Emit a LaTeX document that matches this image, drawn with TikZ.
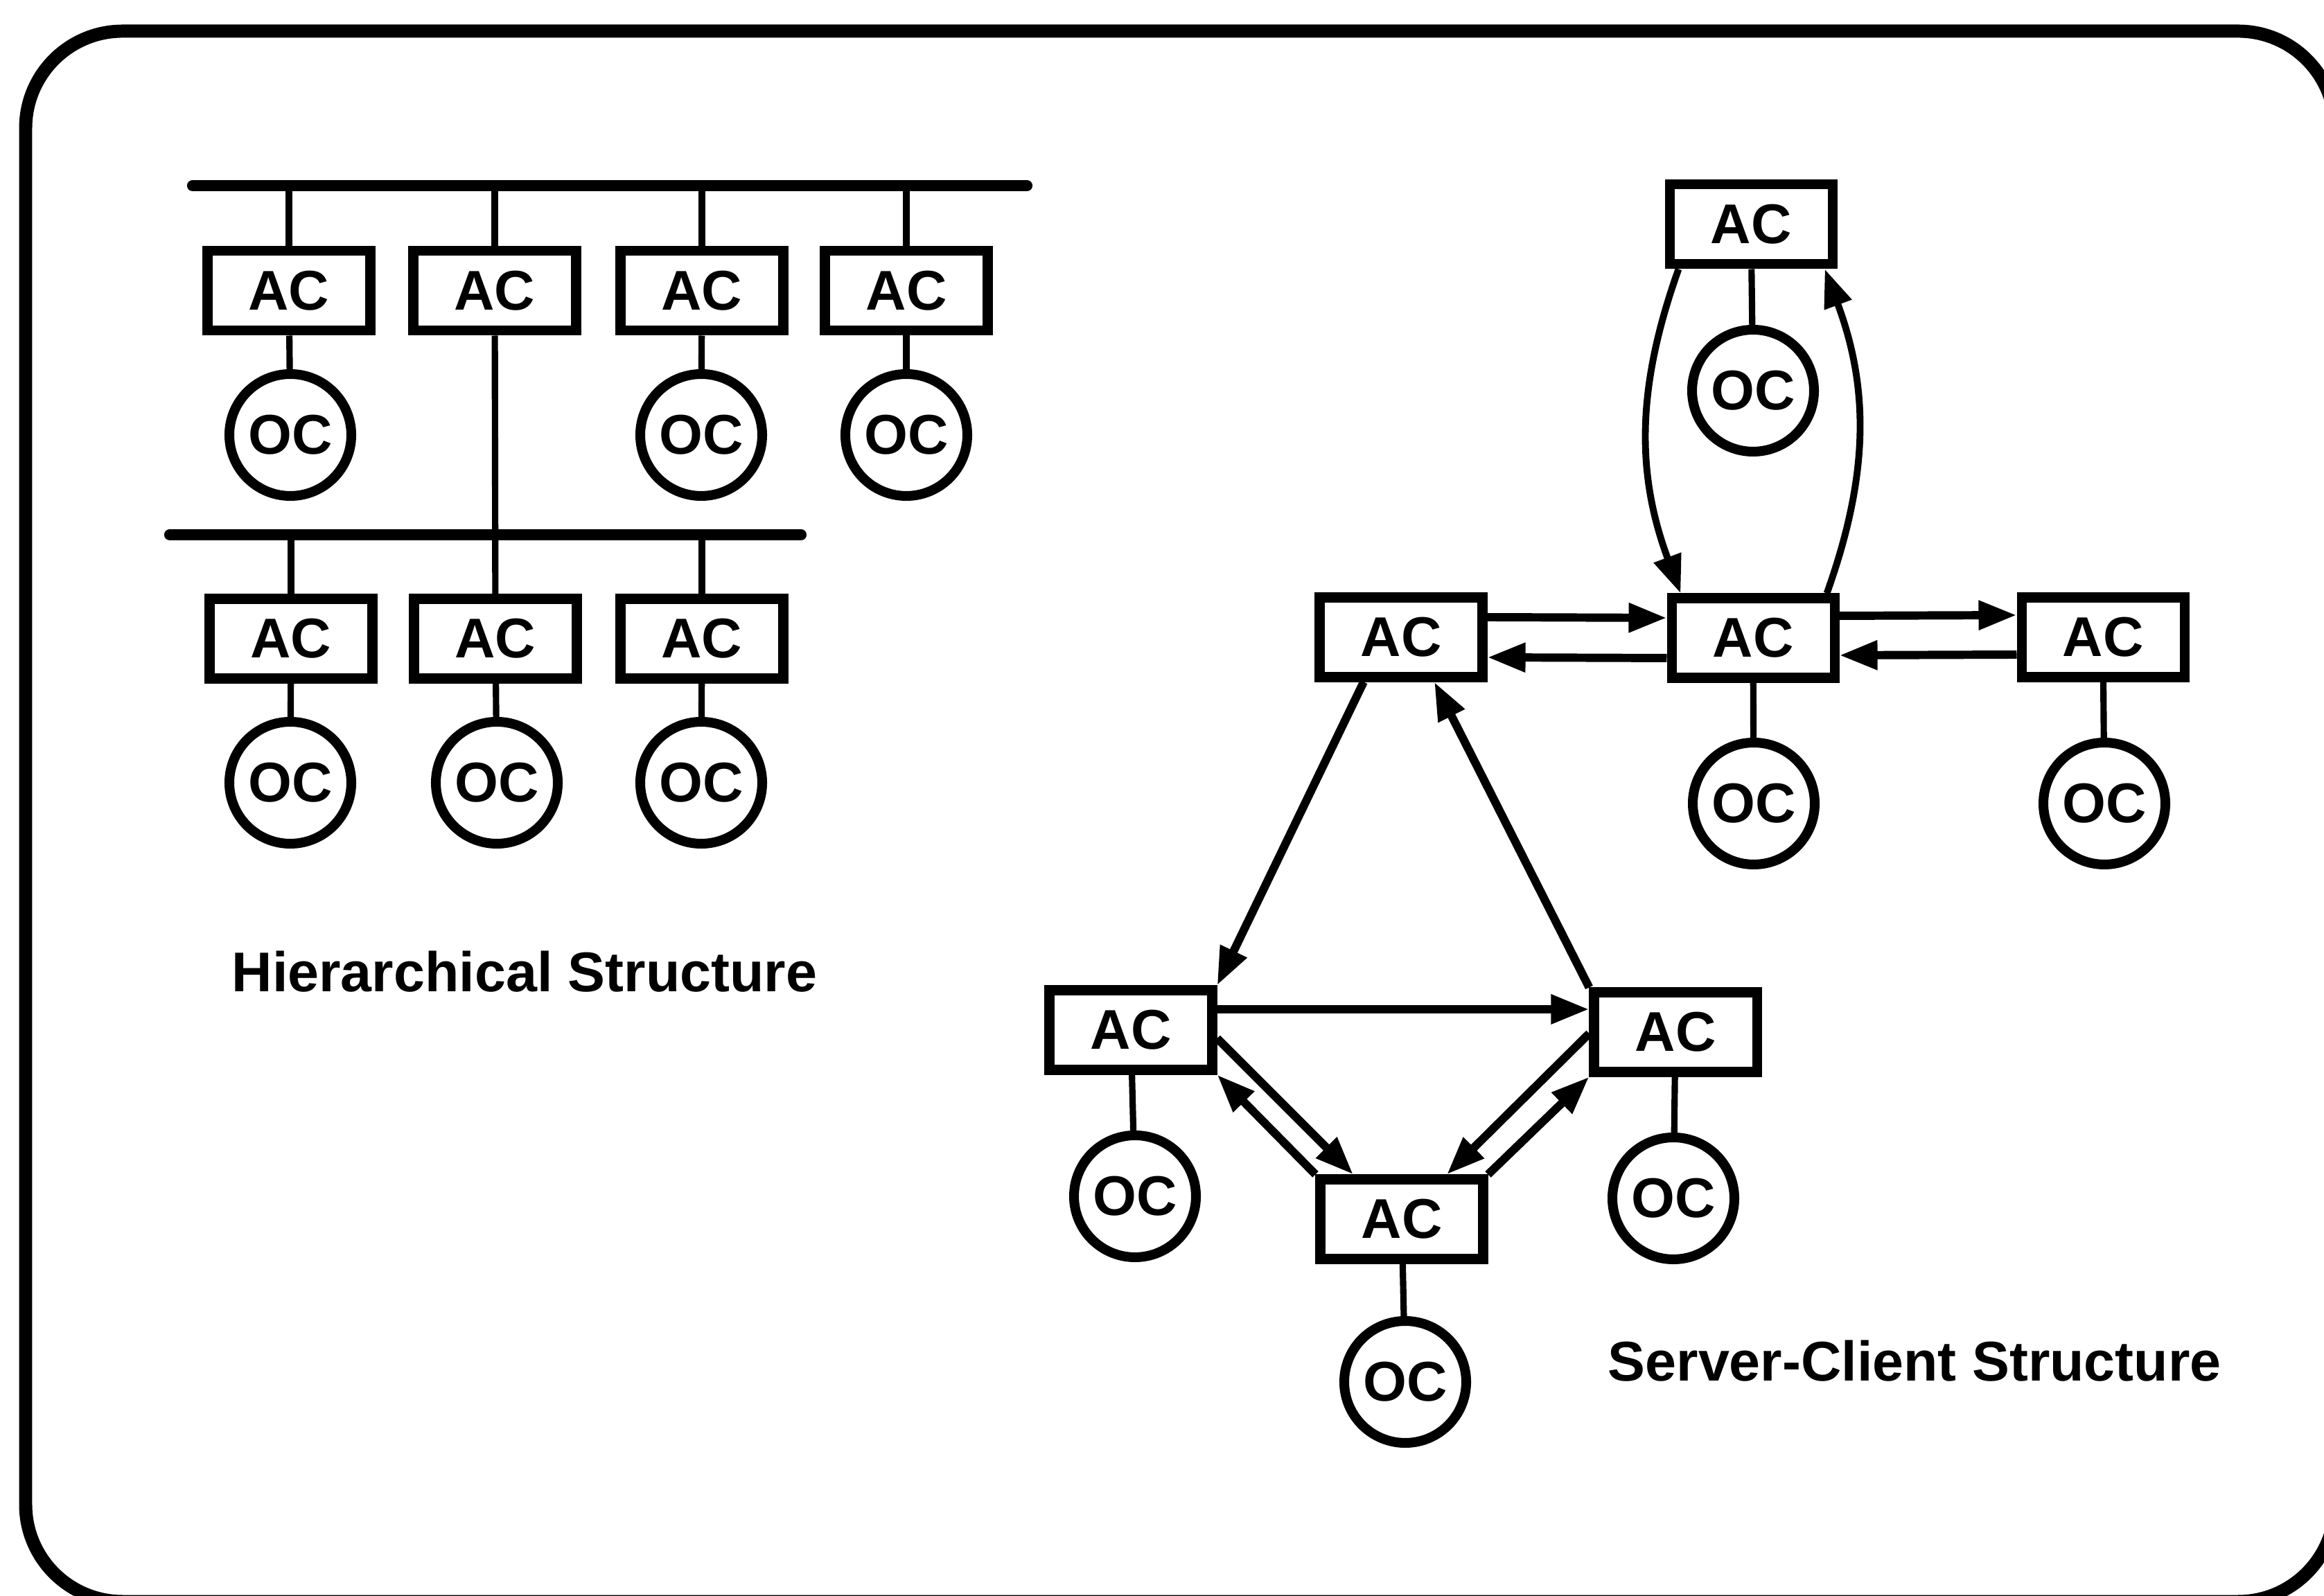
\documentclass[tikz,border=0pt]{standalone}
\usepackage{fontspec}
\setmainfont{Liberation Sans}
\usepackage{tikz}
\usetikzlibrary{arrows.meta}
\tikzset{
  ac/.style      ={draw,line width=4pt,minimum width=2.35cm,minimum height=1.15cm,inner sep=0pt,font=\fontsize{23}{26}\selectfont\bfseries},
  oc/.style      ={draw,circle,line width=4pt,minimum size=1.76cm,inner sep=0pt,font=\fontsize{23}{26}\selectfont\bfseries},
  bus/.style     ={line width=4.6pt,line cap=round},
  stub/.style    ={line width=2.6pt},
  ar/.style      ={line width=3.4pt,-{Triangle[length=5.5mm,width=4mm]}},
  bendar/.style  ={line width=2.8pt,-{Triangle[length=5.5mm,width=4mm]}},
  lbl/.style     ={font=\fontsize{23}{26}\selectfont\bfseries,inner sep=0pt,anchor=west},
  boxframe/.style={line width=5.4pt,rounded corners=1.4cm},
}

\begin{document}
\begin{tikzpicture}
  \useasboundingbox (0,0) rectangle (33.54,23.04);
  \draw[boxframe] (0.37,-0.08) rectangle (33.70,22.59);

  % hierarchical structure
  \draw[bus] (2.78,20.36) coordinate (hbus) -- (14.82,20.36);
  \draw[bus] (2.45,15.32) coordinate (lbus) -- (11.56,15.32);
  \node[ac] (h1) at (4.17,18.84) {AC};
  \node[ac] (h2) at (7.14,18.84) {AC};
  \node[ac] (h3) at (10.13,18.84) {AC};
  \node[ac] (h4) at (13.08,18.84) {AC};
  \node[oc] (o1) at (4.19,16.76) {OC};
  \node[oc] (o3) at (10.12,16.76) {OC};
  \node[oc] (o4) at (13.08,16.76) {OC};
  \node[ac] (h5) at (4.20,13.82) {AC};
  \node[ac] (h6) at (7.15,13.82) {AC};
  \node[ac] (h7) at (10.13,13.82) {AC};
  \node[oc] (o5) at (4.19,11.74) {OC};
  \node[oc] (o6) at (7.17,11.74) {OC};
  \node[oc] (o7) at (10.12,11.74) {OC};
  \draw[stub] (h1) -- (h1 |- hbus);
  \draw[stub] (h2) -- (h2 |- hbus);
  \draw[stub] (h3) -- (h3 |- hbus);
  \draw[stub] (h4) -- (h4 |- hbus);
  \draw[stub] (h5) -- (h5 |- lbus);
  \draw[stub] (h7) -- (h7 |- lbus);
  \draw[stub] (h2) -- (h6);
  \draw[stub] (h1) -- (o1);
  \draw[stub] (h3) -- (o3);
  \draw[stub] (h4) -- (o4);
  \draw[stub] (h5) -- (o5);
  \draw[stub] (h6) -- (o6);
  \draw[stub] (h7) -- (o7);
  \node[lbl] (hlbl) at (3.34,9.01) {Hierarchical Structure};

  % server-client structure
  \node[ac] (top) at (25.27,19.80) {AC};
  \node[oc] (topo) at (25.30,17.40) {OC};
  \node[ac] (mid) at (25.30,13.83) {AC};
  \node[ac] (lft) at (20.22,13.84) {AC};
  \node[ac] (rgt) at (30.35,13.84) {AC};
  \node[oc] (mido) at (25.31,11.44) {OC};
  \node[oc] (rgto) at (30.37,11.44) {OC};
  \node[ac] (bl) at (16.32,8.17) {AC};
  \node[ac] (br) at (24.18,8.14) {AC};
  \node[ac] (bot) at (20.23,5.44) {AC};
  \node[oc] (blo) at (16.38,5.77) {OC};
  \node[oc] (bro) at (24.15,5.74) {OC};
  \node[oc] (boto) at (20.28,3.09) {OC};
  \draw[stub] (top) -- (topo);
  \draw[stub] (mid) -- (mido);
  \draw[stub] (rgt) -- (rgto);
  \draw[stub] (bl) -- (blo);
  \draw[stub] (br) -- (bro);
  \draw[stub] (bot) -- (boto);

  \draw[ar] ([yshift=0.29cm]lft.east) -- ([yshift=0.29cm]mid.west);
  \draw[ar] ([yshift=-0.29cm]mid.west) -- ([yshift=-0.29cm]lft.east);
  \draw[ar] ([yshift=0.32cm]mid.east) -- ([yshift=0.32cm]rgt.west);
  \draw[ar] ([yshift=-0.25cm]rgt.west) -- ([yshift=-0.25cm]mid.east);
  \draw[bendar] ([xshift=0.2cm]top.south west) to[bend right=20] ([xshift=0.2cm]mid.north west);
  \draw[bendar] ([xshift=-0.18cm]mid.north east) to[bend right=20] ([xshift=-0.18cm]top.south east);

  \draw[ar] ([xshift=-0.54cm]lft.south) -- (bl.north east);
  \draw[ar] (br.north west) -- ([xshift=0.48cm]lft.south);
  \draw[ar] ([yshift=0.3cm]bl.east) -- ([yshift=0.33cm]br.west);
  \draw[ar] ([yshift=-0.12cm]bl.east) -- ([xshift=-0.7cm]bot.north);
  \draw[ar] (bot.north west) -- (bl.south east);
  \draw[ar] ([yshift=-0.02cm]br.west) -- ([xshift=0.65cm]bot.north);
  \draw[ar] (bot.north east) -- (br.south west);
  \node[lbl] (slbl) at (23.20,3.39) {Server-Client Structure};
\end{tikzpicture}
\end{document}
